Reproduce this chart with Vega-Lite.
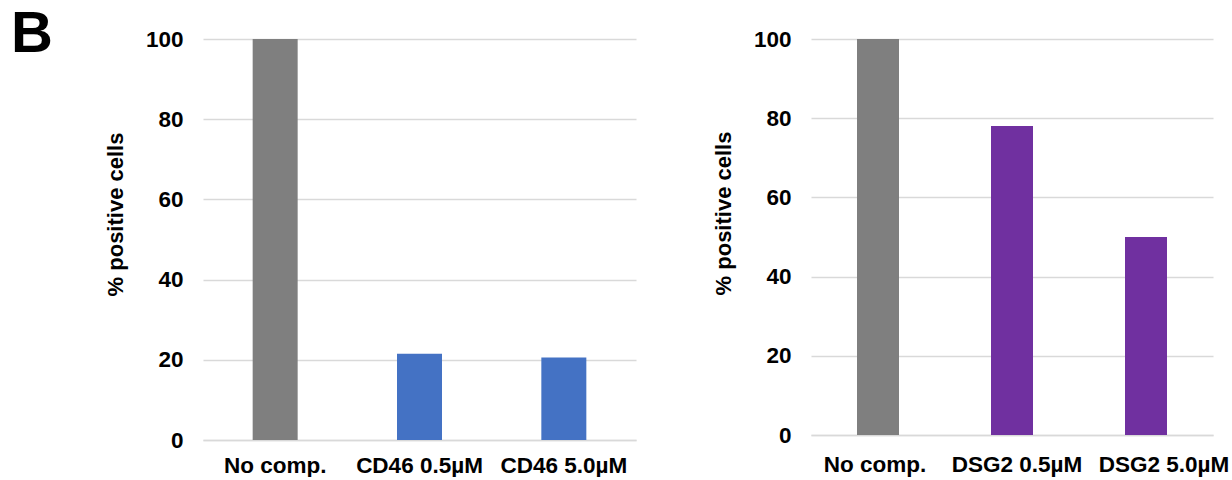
{
  "$schema": "https://vega.github.io/schema/vega-lite/v6.json",
  "background": "white",
  "padding": {"left": 11, "top": 6, "right": 0, "bottom": 0},
  "config": {
    "view": {"stroke": null},
    "font": "Liberation Sans",
    "axis": {
      "labelFont": "Liberation Sans",
      "titleFont": "Liberation Sans",
      "labelFontWeight": "bold",
      "titleFontWeight": "bold",
      "labelFontSize": 22.5,
      "titleFontSize": 22,
      "labelColor": "#000000",
      "titleColor": "#000000",
      "ticks": false
    }
  },
  "spacing": 76,
  "hconcat": [
    {
      "width": 433,
      "height": 401,
      "title": {"text": "B", "fontSize": 58, "fontWeight": "bold", "font": "Liberation Sans", "anchor": "start", "frame": "group", "dx": -192, "dy": 40, "color": "#000000"},
      "data": {"values": [
        {"group": "No comp.", "value": 100, "kind": "control"},
        {"group": "CD46 0.5µM", "value": 21.5, "kind": "cd46"},
        {"group": "CD46 5.0µM", "value": 20.6, "kind": "cd46"}
      ]},
      "mark": {"type": "bar", "width": 45},
      "encoding": {
        "x": {"field": "group", "type": "nominal", "sort": null, "title": null,
              "axis": {"labelAngle": 0, "labelPadding": 14, "domainColor": "#d9d9d9", "domainWidth": 1.5}},
        "y": {"field": "value", "type": "quantitative", "scale": {"domain": [0, 100]}, "title": "% positive cells",
              "axis": {"values": [0, 20, 40, 60, 80, 100], "domain": false, "gridColor": "#d9d9d9", "gridWidth": 1.5, "labelPadding": 20, "titlePadding": 18, "titleY": 175}},
        "color": {"field": "kind", "type": "nominal", "legend": null,
                  "scale": {"domain": ["control", "cd46", "dsg2"], "range": ["#7f7f7f", "#4472c4", "#7030a0"]}}
      }
    },
    {
      "width": 402,
      "height": 396,
      "data": {"values": [
        {"group": "No comp.", "value": 100, "kind": "control"},
        {"group": "DSG2 0.5µM", "value": 78, "kind": "dsg2"},
        {"group": "DSG2 5.0µM", "value": 50, "kind": "dsg2"}
      ]},
      "mark": {"type": "bar", "width": 42},
      "encoding": {
        "x": {"field": "group", "type": "nominal", "sort": null, "title": null,
              "axis": {"labelAngle": 0, "labelPadding": 18, "domainColor": "#d9d9d9", "domainWidth": 1.5,
                       "labelOffset": {"expr": "datum.value === 'DSG2 5.0µM' ? 18 : (datum.value === 'DSG2 0.5µM' ? 5 : -3)"}}},
        "y": {"field": "value", "type": "quantitative", "scale": {"domain": [0, 100]}, "title": "% positive cells",
              "axis": {"values": [0, 20, 40, 60, 80, 100], "domain": false, "gridColor": "#d9d9d9", "gridWidth": 1.5, "labelPadding": 20, "titlePadding": 18, "titleY": 174}},
        "color": {"field": "kind", "type": "nominal", "legend": null,
                  "scale": {"domain": ["control", "cd46", "dsg2"], "range": ["#7f7f7f", "#4472c4", "#7030a0"]}}
      }
    }
  ],
  "resolve": {"scale": {"color": "shared"}}
}
